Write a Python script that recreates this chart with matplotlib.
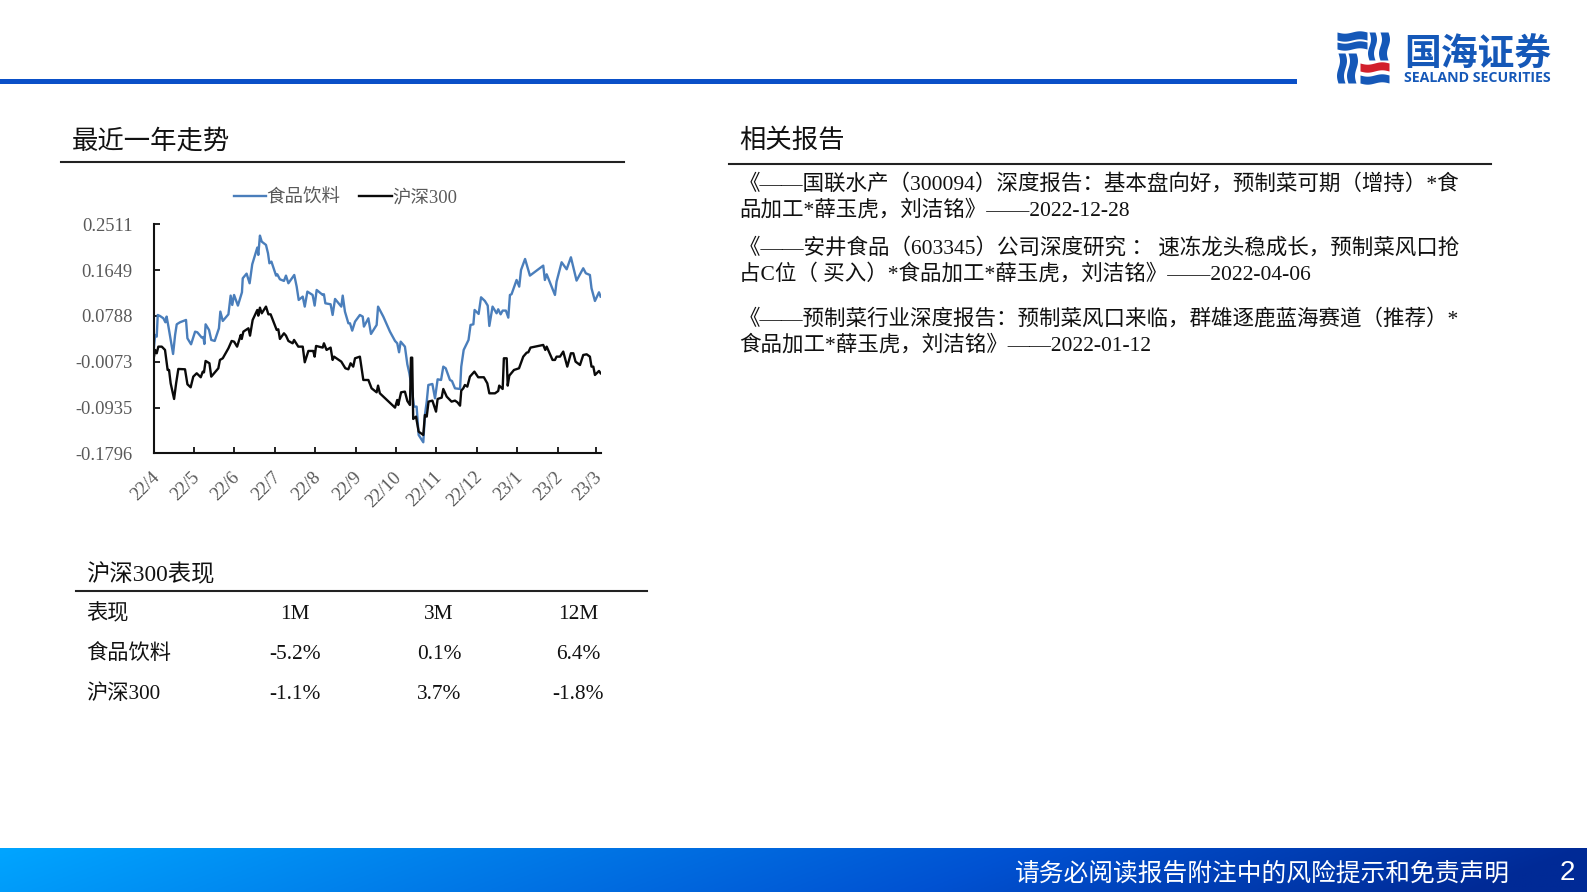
import matplotlib
matplotlib.use('Agg')
import matplotlib.pyplot as plt
from matplotlib.patches import Rectangle
from matplotlib.transforms import ScaledTranslation
import numpy as np

plt.rcParams['font.family'] = ['Liberation Serif', 'Noto Sans CJK SC']

# trading day index and index return
food_days = [0, 0.7, 1.5, 2, 3.1, 4.8, 5.8, 6.4, 7.3, 8.4, 9.6, 10.6, 11.4, 13, 16, 16.7, 18.5, 20.5, 21.6, 23.8,
             24.6, 25.1, 25.7, 27.4, 28.5, 30.2, 32.3, 33, 34.2, 37, 38.1, 38.9, 39.8, 41.7, 43.7, 44.1, 46, 47.5, 48.8, 51.3,
             51.8, 52.6, 53.5, 55.6, 56.6, 57.3, 58.3, 60.6, 61.2, 62.5, 64.5, 65.5, 66.7, 69.6, 70.8, 71.8, 73.8, 74.8, 76.1, 78.7,
             79.7, 80.7, 83.7, 84.3, 85, 87.6, 88.6, 89.8, 92.9, 93.6, 94.7, 96.4, 97.2, 98.3, 99.7, 102.1, 103.5, 104.1, 106.3, 107.6,
             110.4, 111.1, 113.7, 117, 119.5, 120.6, 121.5, 122.3, 124.4, 125.6, 126.6, 127.7, 128.9, 130.2, 131.2, 133.5, 134.3, 135.2, 136, 138,
             139.3, 140.6, 142.3, 143.4, 144.6, 146.7, 147.7, 149.2, 151.7, 152.3, 153.5, 155.9, 156.9, 158.3, 158.9, 160.9, 162.1, 164, 165.4, 166.2,
             167.8, 169.8, 170.6, 171.8, 172.8, 174.4, 175.6, 176.4, 177.2, 179.7, 181, 181.9, 183.9, 186.3, 192.9, 193.7, 194.6, 198.7, 199.5, 202,
             204.5, 206.6, 209.4, 212.7, 214, 216, 216.8, 218.5, 220.5, 221.3]
food_values = [.0148, .0430, .0398, .0806, .0787, .0743, .0668, .0775, .0587, .0336, .0072, .0430, .0630, .0668, .0712, .0367, .0254, .0492, .0480, .0380,
               .0392, .0260, .0630, .0524, .0336, .0317, .0555, .0869, .0693, .0818, .1170, .0994, .1182, .0982, .1232, .1496, .1583, .1402, .1759, .2073,
               .1935, .2298, .2185, .2123, .1966, .1778, .1809, .1546, .1571, .1477, .1446, .1546, .1402, .1558, .1339, .1088, .1151, .0963, .1245, .1182,
               .0982, .1276, .1182, .1195, .1025, .1007, .0806, .1107, .0963, .1170, .0869, .0649, .0649, .0511, .0681, .0806, .0775, .0587, .0743, .0449,
               .0618, .0963, .0775, .0492, .0317, .0273, .0104, .0304, .0210, -.0122, -.0291, -.0542, -.0918, -.0918, -.1451, -.1589, -.1075, -.0824, -.0511, -.0492,
               -.0762, -.0404, -.0417, -.0166, -.0197, -.0417, -.0436, -.0574, -.0586, -.0166, .0148, .0336, .0618, .0630, .0900, .0825, .1138, .1069, .0982, .0599,
               .0963, .0837, .0913, .0818, .0888, .0888, .0756, .1182, .1195, .1464, .1339, .1652, .1859, .1546, .1734, .1464, .1571, .1182, .1433, .1797,
               .1665, .1891, .1452, .1684, .1590, .1558, .1308, .1069, .1232, .1151]

hs300_days = [0, 0.7, 1.5, 2.3, 4, 5.6, 6.9, 7.6, 8.4, 10.1, 11.1, 12.2, 15.5, 16.7, 18.3, 19.6, 21.3, 23.3, 24.3, 24.9,
              25.7, 27.6, 28.5, 32, 32.8, 34.2, 37, 38.6, 39.8, 41.3, 43.1, 43.6, 44.4, 46.9, 47.7, 49, 51.3, 51.8, 52.6, 53.5,
              55.6, 56.8, 57.9, 60.9, 61.7, 62.5, 64.5, 65.5, 66.7, 68.8, 69.5, 71.6, 73.8, 74.8, 76.6, 79, 79.7, 80.4, 83.7, 84.3,
              85.6, 87.6, 88.6, 89.3, 92.9, 94.9, 96.4, 97.5, 98.8, 99.7, 102.1, 103.8, 106.3, 107.9, 110.4, 111.1, 112, 119.5, 120.6, 121.1,
              122.5, 124.4, 125.6, 126.9, 127.4, 128, 128.5, 129.9, 131.2, 133.5, 134.3, 135.2, 136.1, 138, 139.8, 140.6, 142.6, 143.4, 145.1, 147.5,
              149.2, 150.4, 151.7, 152.3, 153.3, 154.1, 155.3, 156.6, 158.8, 160.7, 163.5, 165.2, 166.2, 169, 170.6, 171.1, 172.8, 173.4, 174.8, 175.3,
              176.1, 178.4, 180.9, 183, 184.7, 185.5, 186.6, 192.9, 193.9, 194.6, 197.5, 198.7, 199.5, 201.2, 202.8, 204.8, 206.6, 207.8, 208.9, 211.1,
              212.7, 214.4, 216, 216.8, 217.7, 218.5, 220.5, 221.3]
hs300_values = [-.0009, .0148, .0085, .0210, .0210, .0148, -.0229, -.0229, -.0480, -.0774, -.0480, -.0210, -.0216, -.0498, -.0555, -.0354, -.0291, -.0366, -.0260, -.0273,
                -.0059, -.0103, -.0354, -.0197, -.0040, -.0009, .0179, .0317, .0304, .0210, .0430, .0355, .0492, .0555, .0417, .0712, .0900, .0793, .0944, .0837,
                .0963, .0818, .0818, .0524, .0536, .0355, .0461, .0417, .0317, .0273, .0336, .0210, .0210, -.0084, .0129, .0129, .0022, .0223, .0192, .0273,
                .0148, .0192, -.0040, .0022, -.0072, -.0197, -.0216, -.0103, -.0166, -.0009, .0022, -.0417, -.0417, -.0574, -.0649, -.0523, -.0668, -.0937, -.0793, -.0887,
                -.0649, -.0636, -.0812, -.0887, .0003, .0003, -.1150, -.1106, -.1389, -.1451, -.1075, -.1106, -.0824, -.0805, -.1012, -.0774, -.0749, -.0586, -.0730, -.0824,
                -.0805, -.0837, -.0900, -.0617, -.0574, -.0511, -.0542, -.0354, -.0260, -.0366, -.0366, -.0480, -.0668, -.0668, -.0624, -.0523, -.0586, -.0009, -.0009, -.0523,
                -.0335, -.0229, -.0197, .0022, .0097, .0104, .0192, .0242, .0148, .0210, -.0040, -.0040, .0022, .0022, .0117, -.0166, .0085, .0085, -.0072, -.0135,
                .0053, .0066, .0022, -.0166, -.0166, -.0323, -.0247, -.0291]

y_ticks = [-0.1796, -0.0935, -0.0073, 0.0788, 0.1649, 0.2511]
x_ticks = [0, 20, 40, 60, 80, 100, 120, 140, 160, 180, 200, 219]
x_labels = ['22/4', '22/5', '22/6', '22/7', '22/8', '22/9', '22/10', '22/11', '22/12', '23/1', '23/2', '23/3']

table_head = ['表现', '1M', '3M', '12M']
table_food = ['食品饮料', '-5.2%', '0.1%', '6.4%']
table_hs300 = ['沪深300', '-1.1%', '3.7%', '-1.8%']

reports = [
    '《——国联水产（300094）深度报告：基本盘向好，预制菜可期（增持）*食',
    '品加工*薛玉虎，刘洁铭》——2022-12-28',
    '《——安井食品（603345）公司深度研究 ： 速冻龙头稳成长，预制菜风口抢',
    '占C位（ 买入）*食品加工*薛玉虎，刘洁铭》——2022-04-06',
    '《——预制菜行业深度报告：预制菜风口来临，群雄逐鹿蓝海赛道（推荐）*',
    '食品加工*薛玉虎，刘洁铭》——2022-01-12',
]
report_y = [184.5, 210.5, 248.5, 274.5, 319.5, 345.5]

W, H = 1587, 892
fig = plt.figure(figsize=(W / 100, H / 100), dpi=100, facecolor='white')

# page layer in pixel coordinates
page = fig.add_axes([0, 0, 1, 1])
page.set_xlim(0, W)
page.set_ylim(H, 0)
page.axis('off')

# footer gradient, slightly diagonal
gx, gy = np.meshgrid(np.linspace(0, 1, 400), np.linspace(0, 1, 20))
g = np.clip(gx + 0.07 * gy, 0, 1)
c0 = np.array([0, 165, 255]) / 255
c1 = np.array([0, 82, 210]) / 255
c2 = np.array([0, 42, 150]) / 255
t = g[..., None]
grad = np.where(t < 0.65, c0 + (c1 - c0) * t / 0.65, c1 + (c2 - c1) * (t - 0.65) / 0.35)
page.imshow(grad, extent=(0, W, 892, 848), aspect='auto', zorder=1)
page.set_xlim(0, W)
page.set_ylim(H, 0)

sans = ['Noto Sans CJK SC', 'DejaVu Sans']
page.text(1015, 874, '请务必阅读报告附注中的风险提示和免责声明', color='white', fontsize=17.8,
          family=sans, va='center', ha='left', zorder=3)
page.text(1567, 873, '2', color='white', fontsize=20, family=['Liberation Sans'], va='center', ha='center', zorder=3)

# header rule
page.add_patch(Rectangle((0, 79), 1297, 4.5, color='#0a50c8', lw=0))


# logo, slightly wavy bands like the printed mark
def band_h(x0, x1, y0, y1, color):
    xs = np.linspace(x0, x1, 30)
    wave = 1.2 * np.sin((xs - x0) / (x1 - x0) * 2 * np.pi)
    page.fill_between(xs, y0 + wave, y1 + wave, color=color, lw=0)


def band_v(x0, x1, y0, y1, color):
    ys = np.linspace(y0, y1, 30)
    wave = 1.5 * np.sin((ys - y0) / (y1 - y0) * 2 * np.pi)
    page.fill_betweenx(ys, x0 + wave, x1 + wave, color=color, lw=0)


logo_blue = '#1558b8'
band_h(1337, 1367, 32, 40, logo_blue)
band_h(1337, 1367, 42, 49, logo_blue)
band_v(1338, 1345, 53, 83, logo_blue)
band_v(1348, 1356, 53, 83, logo_blue)
band_v(1369, 1375, 32, 60, logo_blue)
band_v(1380, 1388, 32, 60, logo_blue)
band_h(1360, 1389, 63, 71, '#d2202c')
band_h(1360, 1389, 75, 83, logo_blue)
page.text(1404, 55, '国海证券', color=logo_blue, fontsize=26.5, family=sans, weight='bold', va='center', ha='left')
page.text(1404, 78, 'SEALAND SECURITIES', color=logo_blue, fontsize=10.2, family=['Open Sans'], weight='bold',
          va='center', ha='left')

# section titles and rules
page.text(72, 141, '最近一年走势', fontsize=19, color='#111111', va='center')
page.plot([60.5, 624], [162, 162], color='#222222', lw=1.5)
page.text(739, 141, '相关报告', fontsize=19, color='#111111', va='center')
page.plot([729, 1491], [163.5, 163.5], color='#222222', lw=1.5)

for line, y in zip(reports, report_y):
    page.text(739, y, line, fontsize=15.5, color='#111111', va='center')

# performance table
page.text(86.5, 575, '沪深300表现', fontsize=16.8, color='#111111', va='center')
page.plot([76, 647], [591, 591], color='#222222', lw=1.5)
col_x = [86.5, 295, 439, 578]
for row, y in zip([table_head, table_food, table_hs300], [614.5, 654.5, 694.5]):
    page.text(col_x[0], y, row[0], fontsize=15.3, color='#111111', va='center')
    for val, x in zip(row[1:], col_x[1:]):
        page.text(x, y, val, fontsize=15.4, color='#111111', va='center', ha='center')

# trend chart
ax = fig.add_axes([153.7 / W, (H - 453.3) / H, (601 - 153.7) / W, (453.3 - 224.3) / H])
ax.patch.set_alpha(0)
ax.plot(food_days, food_values, color='#4a7ebb', lw=1.7, label='食品饮料', solid_joinstyle='round')
ax.plot(hs300_days, hs300_values, color='#0a0a0a', lw=1.7, label='沪深300', solid_joinstyle='round')
ax.set_xlim(0, 221.5)
ax.set_ylim(y_ticks[0], y_ticks[-1])
ax.set_yticks(y_ticks)
ax.set_yticklabels([f'{v:.4f}' for v in y_ticks])
ax.set_xticks(x_ticks)
ax.set_xticklabels(x_labels, rotation=45, ha='right', rotation_mode='anchor')
ax.tick_params(axis='both', direction='in', length=4, width=1.3, color='#111111', labelcolor='#595959', labelsize=13.3)
ax.tick_params(axis='y', pad=15)
ax.tick_params(axis='x', pad=11)
# labels sit a little left of their ticks
shift = ScaledTranslation(-3 / 100, 0, fig.dpi_scale_trans)
for lab in ax.get_xticklabels():
    lab.set_transform(lab.get_transform() + shift)
for s in ['top', 'right']:
    ax.spines[s].set_visible(False)
for s in ['left', 'bottom']:
    ax.spines[s].set_linewidth(1.5)
    ax.spines[s].set_color('#111111')

leg = ax.legend(loc='center', bbox_to_anchor=((345.5 - 153.7) / 447.3, (453.3 - 197.5) / 229), ncol=2, frameon=False,
                fontsize=13.3, handlelength=1.75, handletextpad=0.05, columnspacing=1.0, borderpad=0, borderaxespad=0)
for txt in leg.get_texts():
    txt.set_color('#595959')

fig.savefig('out.png', dpi=100)
